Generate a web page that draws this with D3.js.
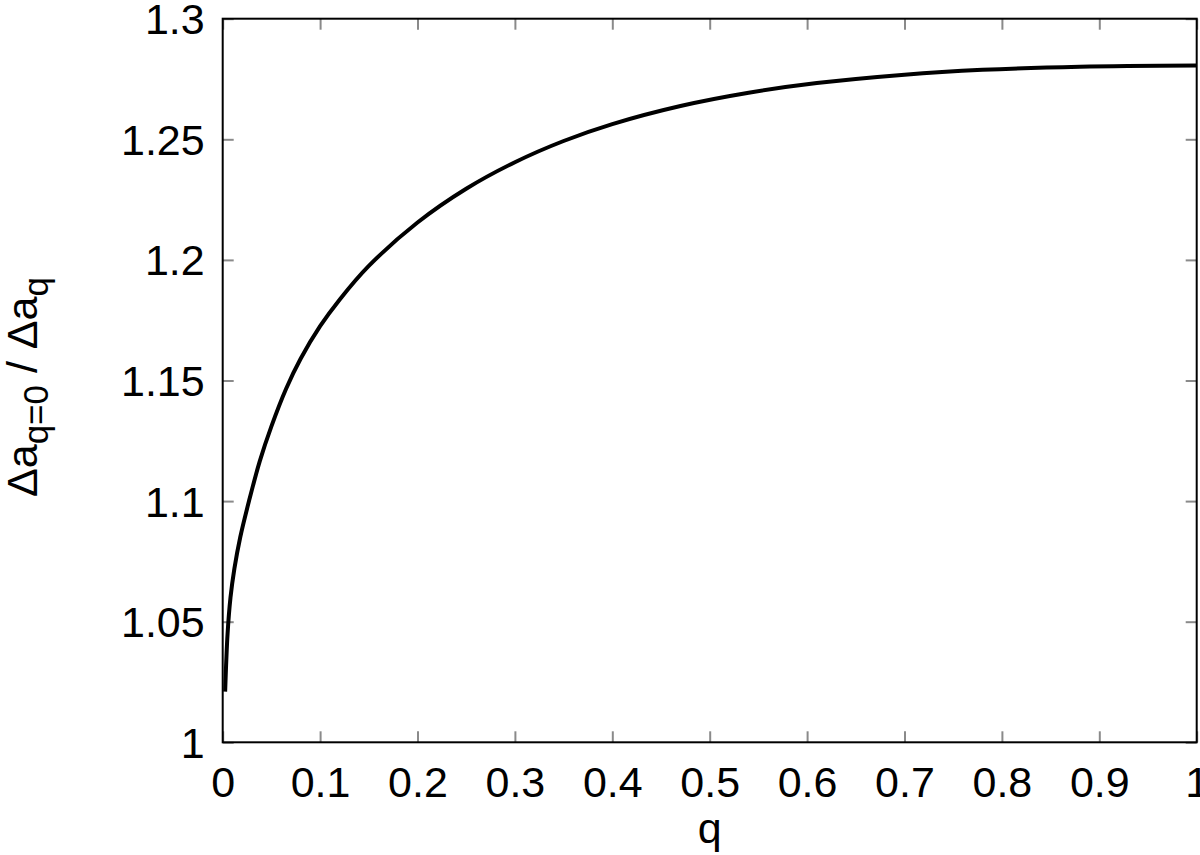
<!DOCTYPE html>
<html>
<head>
<meta charset="utf-8">
<script src="https://cdn.jsdelivr.net/npm/d3@7"></script>
<style>
  body { margin: 0; background: #fff; }
  svg { font-family: "Liberation Sans", Arial, sans-serif; }
  .tick text { font-size: 43px; fill: #000; }
  .tick line { stroke: #8a8a8a; stroke-width: 2; }
</style>
</head>
<body>
<svg width="1200" height="855"></svg>
<script>
// Data
var qValues = [0.0025, 0.005, 0.008, 0.012, 0.018, 0.027, 0.038, 0.05, 0.065, 0.08,
               0.1, 0.12, 0.15, 0.2, 0.25, 0.3, 0.35, 0.4, 0.47, 0.54,
               0.61, 0.7, 0.78, 0.88, 1.0];
var ratioValues = [1.021, 1.045, 1.060, 1.072, 1.085, 1.100, 1.1165, 1.131, 1.1465, 1.159,
                   1.1725, 1.1835, 1.1975, 1.2155, 1.2295, 1.2405, 1.2493, 1.2563, 1.2638, 1.2693,
                   1.2733, 1.2768, 1.2788, 1.2801, 1.2806];
var xTicks = [0, 0.1, 0.2, 0.3, 0.4, 0.5, 0.6, 0.7, 0.8, 0.9, 1];
var yTicks = [1, 1.05, 1.1, 1.15, 1.2, 1.25, 1.3];

// Plot box
var margin = {top: 18.7, right: 3.3, bottom: 112.7, left: 222.7},
    width = 1200 - margin.left - margin.right,
    height = 855 - margin.top - margin.bottom;

var svg = d3.select("svg")
  .append("g")
    .attr("transform", "translate(" + margin.left + "," + margin.top + ")");

var x = d3.scaleLinear().domain([0, 1]).range([0, width]);
var y = d3.scaleLinear().domain([1, 1.3]).range([height, 0]);

var fmt = function(d) { return String(+d.toFixed(2)); };

// Axes with inward ticks (mirrored on top/right)
var xAxis = svg.append("g")
    .attr("transform", "translate(0," + height + ")")
    .call(d3.axisBottom(x).tickValues(xTicks).tickSize(-11).tickPadding(24).tickFormat(fmt));
var xTop = svg.append("g")
    .call(d3.axisTop(x).tickValues(xTicks).tickSize(-11).tickFormat(""));
var yAxis = svg.append("g")
    .call(d3.axisLeft(y).tickValues(yTicks).tickSize(-11).tickPadding(18).tickFormat(fmt));
var yRight = svg.append("g")
    .attr("transform", "translate(" + width + ",0)")
    .call(d3.axisRight(y).tickValues(yTicks).tickSize(-11).tickFormat(""));

svg.selectAll(".domain").remove();
xAxis.selectAll("text").attr("dy", "0.71em");
yAxis.selectAll("text").attr("dy", "0.35em");

// Border
svg.append("rect")
    .attr("x", 0).attr("y", 0)
    .attr("width", width).attr("height", height)
    .attr("fill", "none")
    .attr("stroke", "#000")
    .attr("stroke-width", 2);

// Curve
var line = d3.line()
    .x(function(d, i) { return x(qValues[i]); })
    .y(function(d) { return y(d); })
    .curve(d3.curveCatmullRom.alpha(0.5));

svg.append("path")
    .datum(ratioValues)
    .attr("fill", "none")
    .attr("stroke", "#000")
    .attr("stroke-width", 4)
    .attr("d", line);

// Axis titles
svg.append("text")
    .attr("x", x(0.5))
    .attr("y", height + 101)
    .attr("text-anchor", "middle")
    .style("font-size", "43px")
    .text("q");

var yTitle = svg.append("text")
    .attr("transform", "translate(" + (37 - margin.left) + "," + (497 - margin.top) + ") rotate(-90)")
    .attr("text-anchor", "start")
    .style("font-size", "43px");
yTitle.append("tspan").text("Δa");
yTitle.append("tspan").attr("dy", 11).style("font-size", "35px").text("q=0");
yTitle.append("tspan").attr("dy", -11).text(" / Δa");
yTitle.append("tspan").attr("dy", 11).style("font-size", "35px").text("q");
</script>
</body>
</html>
